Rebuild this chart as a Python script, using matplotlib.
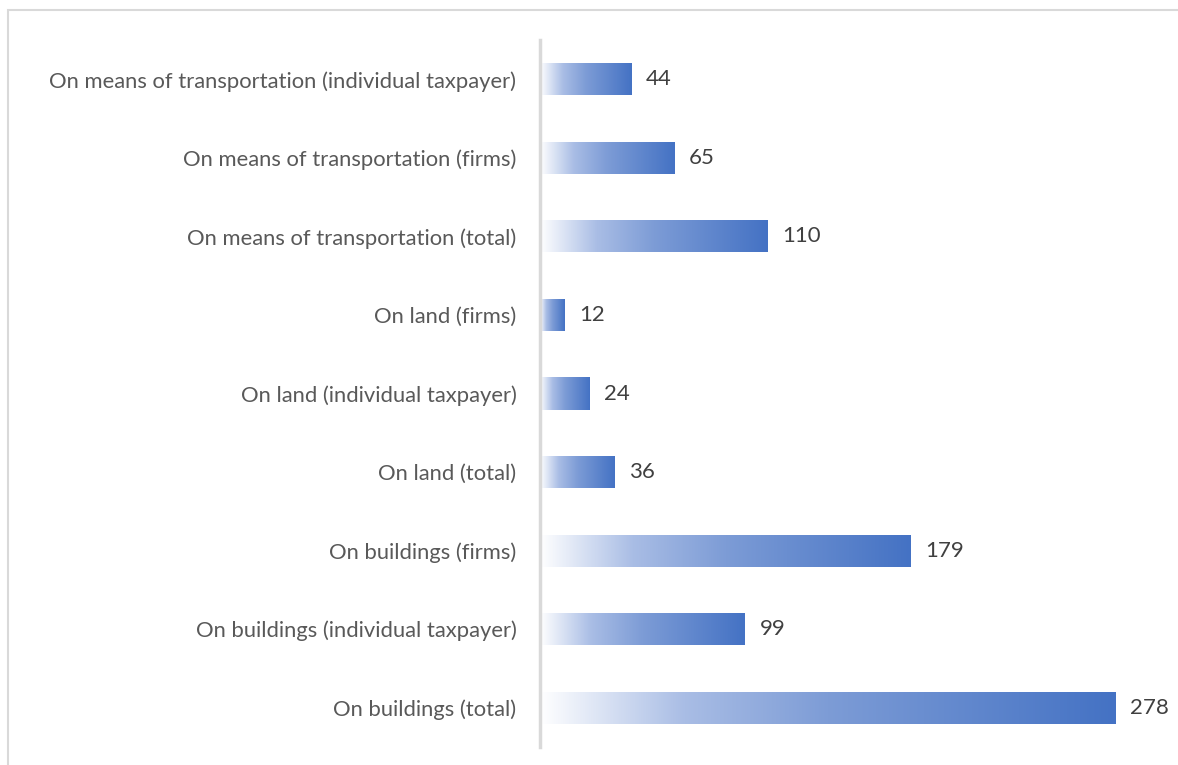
import numpy as np
import matplotlib.pyplot as plt
from matplotlib.colors import LinearSegmentedColormap
from matplotlib.patches import Rectangle

categorias = [
    "On buildings (total)",
    "On buildings (individual taxpayer)",
    "On buildings (firms)",
    "On land (total)",
    "On land (individual taxpayer)",
    "On land (firms)",
    "On means of transportation (total)",
    "On means of transportation (firms)",
    "On means of transportation (individual taxpayer)",
]
valores = [278, 99, 179, 36, 24, 12, 110, 65, 44]

plt.rcParams["font.family"] = ["Lato", "DejaVu Sans"]

gradiente = LinearSegmentedColormap.from_list(
    "azul", [(0.0, "#ffffff"), (0.25, "#a9bde5"), (0.5, "#7d9cd6"), (1.0, "#4472c4")]
)

fig = plt.figure(figsize=(11.78, 7.65), dpi=100)
ax = fig.add_axes([540 / 1178, 18 / 765, 621 / 1178, 707 / 765])

# moldura do gráfico
fig.patches.append(Rectangle((8 / 1178, -0.05), 1.1, (755 + 38) / 765,
                             transform=fig.transFigure, fill=False,
                             edgecolor="#d9d9d9", linewidth=1.5))

y = np.arange(len(categorias))
barras = ax.barh(y, valores, height=0.41, color="none", edgecolor="none")

faixa = np.linspace(0, 1, 256).reshape(1, -1)
for barra, v in zip(barras, valores):
    x0, y0 = barra.get_x(), barra.get_y()
    w, h = barra.get_width(), barra.get_height()
    img = ax.imshow(faixa, cmap=gradiente, aspect="auto",
                    extent=[x0, x0 + w, y0, y0 + h], zorder=2)
    img.set_clip_path(barra)
    ax.text(v + 7, barra.get_y() + h / 2, str(v), va="center", ha="left",
            fontsize=16, color="#404040")

ax.set_xlim(0, 300)
ax.set_ylim(-0.5, len(categorias) - 0.5)
ax.set_yticks(y)
ax.set_yticklabels(categorias, fontsize=15.8, color="#595959")
ax.tick_params(axis="y", length=0, pad=17)
ax.set_xticks([])
for lado in ["top", "right", "bottom"]:
    ax.spines[lado].set_visible(False)
ax.spines["left"].set_color("#d9d9d9")
ax.spines["left"].set_linewidth(2.5)

fig.savefig("out.png", dpi=100)
